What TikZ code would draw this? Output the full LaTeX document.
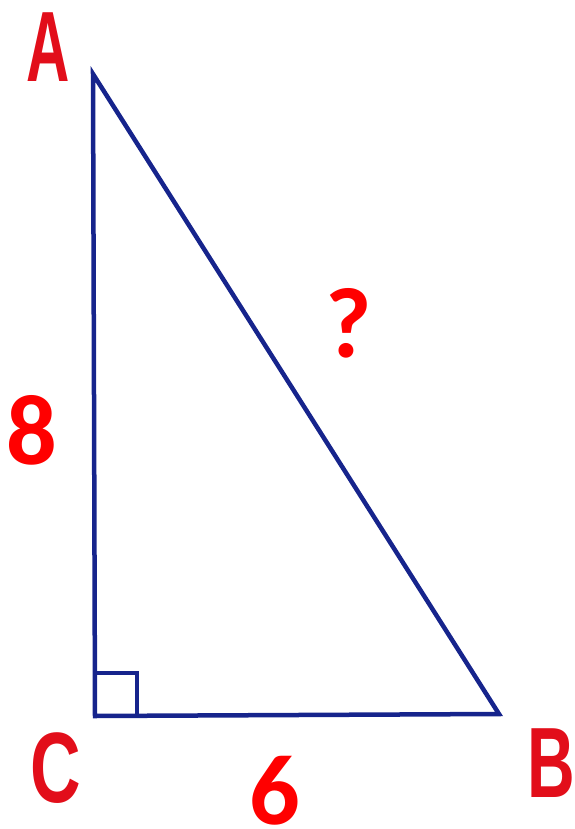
\documentclass[tikz,border=0pt]{standalone}
\usepackage{fontspec}
\setmainfont{Liberation Sans}
\newfontfamily\digitfont{Carlito}
\definecolor{linblue}{RGB}{22,36,140}
\definecolor{letred}{RGB}{226,14,26}
\definecolor{digred}{RGB}{255,0,0}
\begin{document}
\begin{tikzpicture}[x=1pt,y=-1pt,
  edge/.style={draw=linblue,line width=4.5pt,line join=miter},
  vlabel/.style={text=letred,inner sep=0pt,anchor=base,font=\fontsize{100}{100}\selectfont\bfseries},
  dlabel/.style={text=digred,inner sep=0pt,anchor=base,font=\fontsize{100}{100}\selectfont\digitfont\bfseries}]
\useasboundingbox (0,0) rectangle (574,829);
\coordinate (A) at (93,74);
\coordinate (C) at (95,716);
\coordinate (B) at (499,714);
\coordinate (S1) at (95,673);
\coordinate (S2) at (137,673);
\coordinate (S3) at (137,716);
\draw[edge] (A) -- (C) -- (B) -- cycle;
\draw[edge] (S1) -- (S2) -- (S3);
\node[vlabel] (lA) at (48.5,82) {\scalebox{0.6}[1]{A}};
\node[vlabel] (lC) at (56,802) {\scalebox{0.7}[1]{C}};
\node[vlabel] (lB) at (551,797) {\scalebox{0.66}[1]{B}};
\node[dlabel] (l8) at (31.5,464) {8};
\node[dlabel] (l6) at (274.5,824) {6};
\node[dlabel] (lq) at (349,357) {?};
\end{tikzpicture}
\end{document}
